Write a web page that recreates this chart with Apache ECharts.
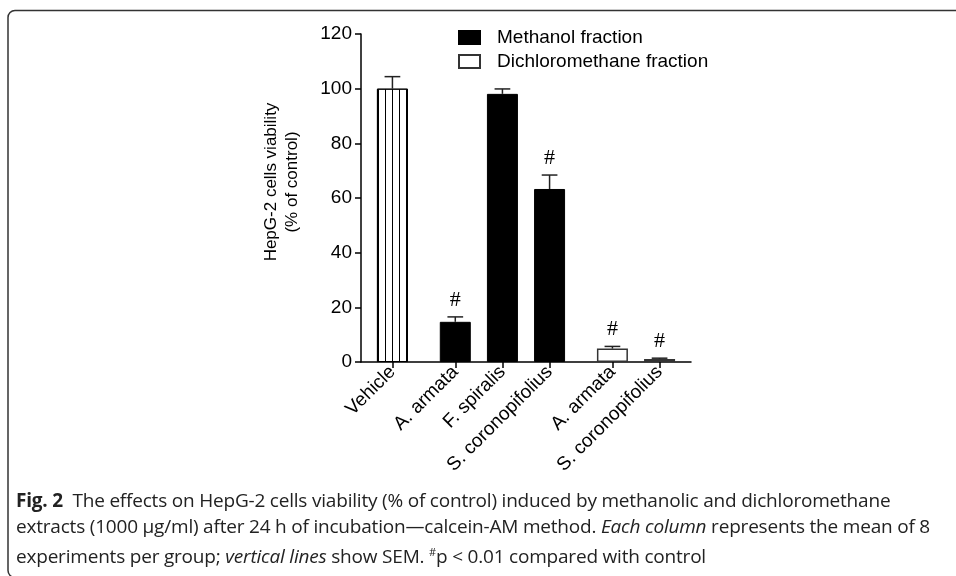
<!DOCTYPE html>
<html>
<head>
    <meta charset="utf-8">
    <title>HepG-2 cells viability</title>
    <script src="https://cdn.jsdelivr.net/npm/echarts@6/dist/echarts.min.js"></script>
    <style>
        html, body { margin: 0; padding: 0; background: #fff; }
        #wrap { position: relative; width: 956px; height: 576px; }
        #chart { position: absolute; left: 0; top: 0; width: 956px; height: 576px; }
        #caption {
            position: absolute; left: 16px; top: 487px;
            font-family: "Open Sans", "Noto Sans", sans-serif;
            font-size: 19px; line-height: 26px; color: #222;
            letter-spacing: -0.2px; white-space: nowrap;
        }
        #caption b { font-weight: 700; }
    </style>
</head>
<body>
<div id="wrap">
    <div id="chart"></div>
    <div id="caption">
        <div><b>Fig. 2</b>&nbsp; The effects on HepG-2 cells viability (% of control) induced by methanolic and dichloromethane</div>
        <div>extracts (1000 µg/ml) after 24 h of incubation—calcein-AM method. <i>Each column</i> represents the mean of 8</div>
        <div>experiments per group; <i>vertical lines</i> show SEM. <sup style="font-size:11px">#</sup>p &lt; 0.01 compared with control</div>
    </div>
</div>
<script type="text/javascript">
    // 数据
    var categories = ['Vehicle', 'A. armata', 'F. spiralis', 'S. coronopifolius', 'A. armata', 'S. coronopifolius'];
    var groups = ['Vehicle', 'Methanol fraction', 'Methanol fraction', 'Methanol fraction', 'Dichloromethane fraction', 'Dichloromethane fraction'];
    var means = [100, 14.7, 98.1, 63.3, 4.9, 1.1];
    var sem = [4.4, 1.8, 1.8, 5.1, 0.8, 0.3];
    var marks = ['', '#', '', '#', '#', '#'];
    var yTicks = [0, 20, 40, 60, 80, 100, 120];

    // bar position: 1.5 units apart, extra 0.5 unit between data sets
    var groupOrder = ['Vehicle', 'Methanol fraction', 'Dichloromethane fraction'];
    var xPos = categories.map(function (c, i) {
        return 1 + i * 1.5 + groupOrder.indexOf(groups[i]) * 0.5;
    });

    function seriesData(name) {
        var out = [];
        for (var i = 0; i < categories.length; i++) {
            if (groups[i] === name) out.push([xPos[i], means[i]]);
        }
        return out;
    }

    var errData = means.map(function (m, i) { return [xPos[i], m, m + sem[i], i]; });

    var font = '"Liberation Sans", Arial, sans-serif';
    var chart = echarts.init(document.getElementById('chart'));

    chart.setOption({
        animation: false,
        textStyle: { fontFamily: font },
        grid: { left: 361, right: 265, top: 34, bottom: 214 },
        legend: {
            data: ['Methanol fraction', 'Dichloromethane fraction'],
            orient: 'vertical',
            left: 453, top: 23,
            itemWidth: 21, itemHeight: 13, itemGap: 5,
            icon: 'rect',
            textStyle: { fontSize: 19, color: '#000', fontFamily: font, padding: [0, 0, 0, 12] }
        },
        xAxis: {
            type: 'value',
            min: 0, max: 10.5,
            splitLine: { show: false },
            axisLine: { lineStyle: { color: '#000', width: 1.5 } },
            axisTick: { show: true, length: 6, customValues: xPos, lineStyle: { color: '#000', width: 1.5 } },
            axisLabel: {
                customValues: xPos,
                rotate: 45,
                fontSize: 19,
                color: '#000',
                margin: 7,
                formatter: function (v) { return categories[xPos.indexOf(v)]; }
            }
        },
        yAxis: {
            type: 'value',
            min: yTicks[0], max: yTicks[yTicks.length - 1], interval: 20,
            splitLine: { show: false },
            axisLine: { show: true, lineStyle: { color: '#000', width: 1.5 } },
            axisTick: { show: true, length: 6, lineStyle: { color: '#000', width: 1.5 } },
            axisLabel: { fontSize: 19, color: '#000', margin: 9 }
        },
        graphic: [
            {
                type: 'text',
                x: 282, y: 182,
                rotation: Math.PI / 2,
                style: {
                    text: 'HepG-2 cells viability\n(% of control)',
                    align: 'center', verticalAlign: 'middle',
                    fontSize: 17, fontFamily: font, fill: '#000', lineHeight: 21
                }
            },
            {
                type: 'rect',
                shape: { x: 8, y: 10.5, width: 970, height: 567, r: 7 },
                style: { fill: 'none', stroke: '#333', lineWidth: 1.5 }
            }
        ],
        series: [
            {
                name: 'Vehicle',
                type: 'bar',
                barWidth: 31,
                barGap: '-100%',
                data: seriesData('Vehicle'),
                itemStyle: {
                    color: '#fff', borderColor: '#000', borderWidth: 1,
                    decal: { symbol: 'rect', symbolSize: 1, color: '#000', dashArrayX: [1, 5.3], dashArrayY: [10, 0], rotation: 0 }
                }
            },
            {
                name: 'Methanol fraction',
                type: 'bar',
                barWidth: 31,
                barGap: '-100%',
                data: seriesData('Methanol fraction'),
                itemStyle: { color: '#000', borderColor: '#000', borderWidth: 1 }
            },
            {
                name: 'Dichloromethane fraction',
                type: 'bar',
                barWidth: 31,
                barGap: '-100%',
                data: seriesData('Dichloromethane fraction'),
                itemStyle: { color: '#fff', borderColor: '#333', borderWidth: 1.5 }
            },
            {
                name: 'SEM',
                type: 'custom',
                data: errData,
                z: 5,
                renderItem: function (params, api) {
                    var x = api.value(0);
                    var base = api.coord([x, api.value(1)]);
                    var top = api.coord([x, api.value(2)]);
                    var half = api.size([1, 0])[0] / 4;
                    var children = [
                        { type: 'line', shape: { x1: base[0], y1: base[1], x2: top[0], y2: top[1] }, style: { stroke: '#222', lineWidth: 1.5 } },
                        { type: 'line', shape: { x1: top[0] - half, y1: top[1], x2: top[0] + half, y2: top[1] }, style: { stroke: '#222', lineWidth: 1.5 } }
                    ];
                    var m = marks[api.value(3)];
                    if (m) {
                        children.push({
                            type: 'text',
                            x: top[0], y: top[1] - 6,
                            style: { text: m, align: 'center', verticalAlign: 'bottom', fontSize: 22, fontFamily: '"Liberation Serif", serif', fill: '#000' }
                        });
                    }
                    return { type: 'group', children: children };
                }
            }
        ]
    });
</script>
</body>
</html>
